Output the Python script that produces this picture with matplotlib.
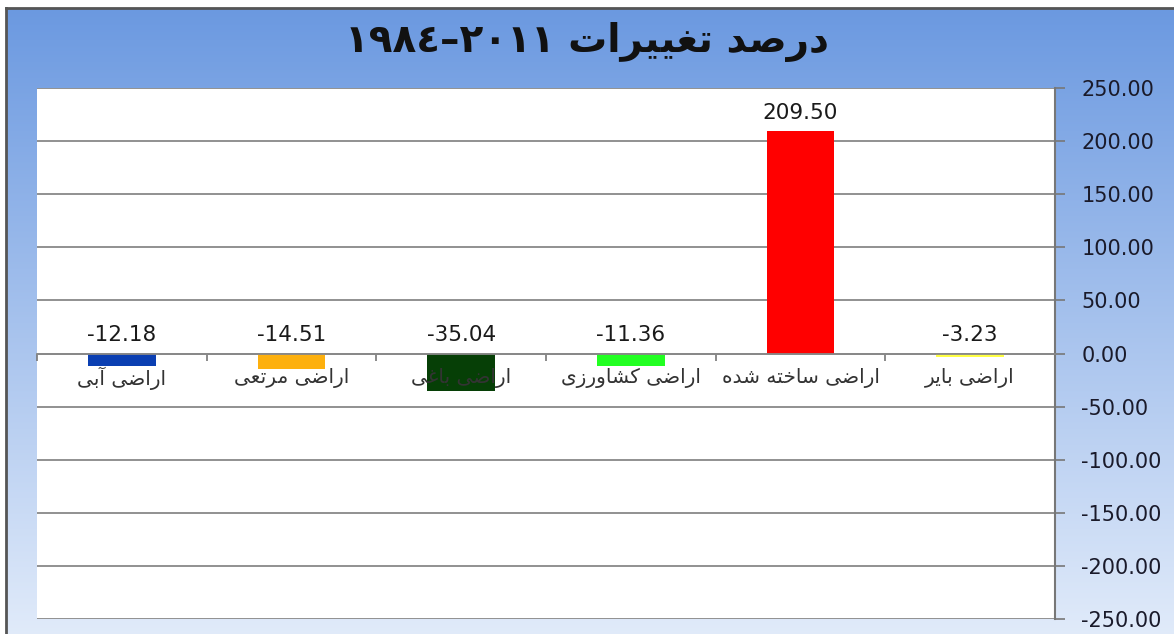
# درصد تغییرات کاربری اراضی ۱۹۸۴-۲۰۱۱
import numpy as np
import matplotlib.pyplot as plt

# داده ها
categories = ['اراضی آبی', 'اراضی مرتعی', 'اراضی باغی',
              'اراضی کشاورزی', 'اراضی ساخته شده', 'اراضی بایر']
values = [-12.18, -14.51, -35.04, -11.36, 209.50, -3.23]
bar_colors = ['#0b3fb2', '#fdb00e', '#063f06', '#22ff22', '#ff0000', '#ffff44']
title_text = 'درصد تغییرات'
title_years = '١٩٨٤–٢٠١١'
yticks = np.arange(-250, 251, 50)

# شکل دادن حروف فارسی (matplotlib خودش این کار را نمی کند)
FORMS = {
    'ا': ('\uFE8D', '\uFE8E', None, None),
    'آ': ('\uFE81', '\uFE82', None, None),
    'ب': ('\uFE8F', '\uFE90', '\uFE91', '\uFE92'),
    'ت': ('\uFE95', '\uFE96', '\uFE97', '\uFE98'),
    'خ': ('\uFEA5', '\uFEA6', '\uFEA7', '\uFEA8'),
    'د': ('\uFEA9', '\uFEAA', None, None),
    'ر': ('\uFEAD', '\uFEAE', None, None),
    'ز': ('\uFEAF', '\uFEB0', None, None),
    'س': ('\uFEB1', '\uFEB2', '\uFEB3', '\uFEB4'),
    'ش': ('\uFEB5', '\uFEB6', '\uFEB7', '\uFEB8'),
    'ص': ('\uFEB9', '\uFEBA', '\uFEBB', '\uFEBC'),
    'ض': ('\uFEBD', '\uFEBE', '\uFEBF', '\uFEC0'),
    'ع': ('\uFEC9', '\uFECA', '\uFECB', '\uFECC'),
    'غ': ('\uFECD', '\uFECE', '\uFECF', '\uFED0'),
    'م': ('\uFEE1', '\uFEE2', '\uFEE3', '\uFEE4'),
    'ه': ('\uFEE9', '\uFEEA', '\uFEEB', '\uFEEC'),
    'و': ('\uFEED', '\uFEEE', None, None),
    'ی': ('\uFBFC', '\uFBFD', '\uFBFE', '\uFBFF'),
    'ک': ('\uFB8E', '\uFB8F', '\uFB90', '\uFB91'),
}


def shape(word):
    out = []
    for i, ch in enumerate(word):
        if ch not in FORMS:
            out.append(ch)
            continue
        prev = word[i - 1] if i > 0 else ''
        nxt = word[i + 1] if i + 1 < len(word) else ''
        join_prev = prev in FORMS and FORMS[prev][2] is not None
        join_next = nxt in FORMS and FORMS[ch][2] is not None
        iso, fin, ini, med = FORMS[ch]
        if join_prev and join_next:
            out.append(med)
        elif join_prev:
            out.append(fin)
        elif join_next:
            out.append(ini)
        else:
            out.append(iso)
    return ''.join(out)[::-1]


def fa(text):
    return ' '.join(shape(w) for w in text.split(' ')[::-1])


plt.rcParams['font.family'] = ['DejaVu Sans']

fig = plt.figure(figsize=(11.74, 6.34), dpi=100)
fig.patch.set_facecolor('white')

# پس زمینه گرادیان آبی
bg = fig.add_axes([6 / 1174, 0, 1 - 6 / 1174, 1 - 8 / 634])
grad = np.linspace(0, 1, 256).reshape(-1, 1)
top = np.array([0.42, 0.60, 0.88])
bottom = np.array([0.88, 0.92, 0.98])
img = top + (bottom - top) * grad[:, :, None]
bg.imshow(img, aspect='auto', extent=[0, 1, 0, 1], origin='upper')
bg.set_xticks([])
bg.set_yticks([])
for s in bg.spines.values():
    s.set_color('#555555')
    s.set_linewidth(2)
bg.spines['right'].set_visible(False)
bg.spines['bottom'].set_visible(False)

ax = fig.add_axes([37 / 1174, 1 - 619 / 634, 1018 / 1174, 531 / 634])
ax.set_facecolor('white')
x = np.arange(len(categories))
ax.bar(x, values, width=0.4, color=bar_colors, zorder=2)

ax.set_xlim(-0.5, len(categories) - 0.5)
ax.set_ylim(-250, 250)
ax.set_yticks(yticks)
ax.set_yticklabels([f'{v:.2f}' for v in yticks], fontsize=15, color='#1a1a2a')
ax.yaxis.tick_right()
ax.tick_params(axis='y', direction='out', length=7, width=1.2, color='#777777', pad=12)
ax.yaxis.grid(True, color='#888888', linewidth=1.3, zorder=0)
ax.set_axisbelow(True)

# محور افقی روی صفر
ax.spines['bottom'].set_position(('data', 0))
ax.spines['bottom'].set_color('#888888')
ax.spines['bottom'].set_linewidth(1.3)
ax.spines['right'].set_color('#777777')
ax.spines['right'].set_linewidth(1.5)
ax.spines['top'].set_visible(False)
ax.spines['left'].set_visible(False)
ax.set_xticks(np.arange(-0.5, len(categories), 1.0))
ax.set_xticklabels([])
ax.tick_params(axis='x', direction='out', length=5, width=1.2, color='#777777')

for i, (c, v) in enumerate(zip(categories, values)):
    ax.text(i, -23, fa(c), ha='center', va='center', fontsize=14.5,
            color='#333333', zorder=4)
    ax.text(i, max(v, 0) + 17, f'{v:.2f}', ha='center', va='center',
            fontsize=15.5, color='#1a1a1a', zorder=4)

fig.text(0.5, 1 - 42 / 634, title_years + ' ' + fa(title_text), ha='center',
         va='center', fontsize=28, fontweight='bold', color='#111111')

fig.savefig('out.png', dpi=100)
